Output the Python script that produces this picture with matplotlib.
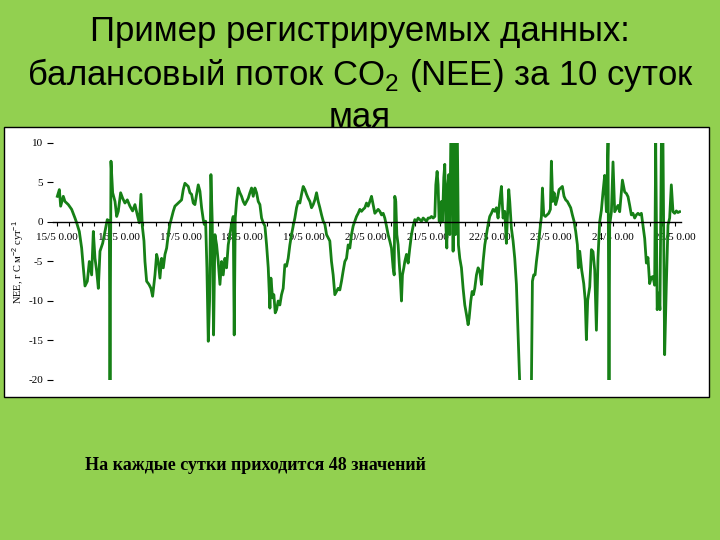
import matplotlib
matplotlib.use('Agg')
import matplotlib.pyplot as plt
from matplotlib.patches import Rectangle

# NEE, 15-25 May (days since 15/5 0:00)
day = [
    0.005, 0.038, 0.059, 0.102, 0.129, 0.183, 0.237, 0.291, 0.318, 0.361,
    0.399, 0.426, 0.453, 0.491, 0.523, 0.561, 0.588, 0.615, 0.642, 0.669,
    0.696, 0.739, 0.777, 0.814, 0.847, 0.858, 0.874, 0.901, 0.939, 0.966,
    0.992, 1.030, 1.063, 1.100, 1.138, 1.181, 1.224, 1.262, 1.300, 1.332,
    1.359, 1.381, 1.408, 1.424, 1.451, 1.489, 1.521, 1.548, 1.586,
    1.613, 1.640, 1.667, 1.694, 1.721, 1.748, 1.775, 1.801, 1.828, 1.855,
    1.882, 1.909, 1.937, 1.963, 1.990, 2.017, 2.044, 2.071, 2.098, 2.125,
    2.152, 2.179, 2.206, 2.233, 2.260, 2.287, 2.314, 2.341, 2.368, 2.384,
    2.406, 2.427, 2.449, 2.470, 2.492, 2.513, 2.535, 2.557, 2.584, 2.610,
    2.638, 2.665, 2.691, 2.718, 2.745, 2.772, 2.799, 2.826, 2.853, 2.869,
    2.886, 2.907, 2.934, 2.961, 2.988, 3.015, 3.042, 3.069, 3.096, 3.123,
    3.150, 3.177, 3.204, 3.231, 3.258, 3.285, 3.312,
    3.339, 3.366, 3.393, 3.420, 3.447, 3.463, 3.490, 3.511, 3.533, 3.555,
    3.581, 3.608, 3.635, 3.662, 3.689, 3.716, 3.743, 3.770, 3.797, 3.824,
    3.851, 3.878, 3.905, 3.932, 3.959, 3.986, 4.013, 4.040, 4.067, 4.094,
    4.121, 4.148, 4.175, 4.202, 4.229, 4.256, 4.283, 4.310, 4.337, 4.364,
    4.391, 4.417, 4.444, 4.471, 4.498, 4.525, 4.552, 4.579, 4.606, 4.633,
    4.660, 4.687, 4.714, 4.741, 4.768, 4.795, 4.822, 4.849, 4.876, 4.903,
    4.930, 4.957, 4.984, 5.011, 5.038,
    5.065, 5.092, 5.119, 5.146, 5.173, 5.200, 5.227, 5.254, 5.281, 5.307,
    5.334, 5.361, 5.388, 5.415, 5.442, 5.459, 5.469, 5.485, 5.502, 5.523,
    5.539, 5.561, 5.577, 5.593, 5.615, 5.631, 5.658, 5.685, 5.712, 5.739,
    5.766, 5.793, 5.820, 5.847, 5.874, 5.901, 5.928, 5.955, 5.982, 6.009,
    6.036, 6.063, 6.090, 6.117, 6.133, 6.154, 6.170, 6.187, 6.208, 6.224,
    6.241, 6.262, 6.278, 6.294, 6.311, 6.327, 6.343, 6.359, 6.375, 6.397,
    6.413, 6.429, 6.451, 6.467, 6.483, 6.499, 6.521, 6.548, 6.575, 6.602,
    6.629, 6.656, 6.672, 6.699, 6.721, 6.742, 6.764,
    6.791, 6.818, 6.845, 6.872, 6.899, 6.926, 6.953, 6.980, 7.006, 7.033,
    7.060, 7.087, 7.114, 7.141, 7.168, 7.195, 7.222, 7.249, 7.276, 7.292,
    7.314, 7.330, 7.357, 7.384, 7.411, 7.438, 7.465, 7.492, 7.573, 7.681,
    7.697, 7.718, 7.740, 7.762, 7.789, 7.816, 7.843, 7.859, 7.880, 7.907,
    7.934, 7.961, 7.988, 8.004, 8.026, 8.048, 8.074, 8.101, 8.128, 8.155,
    8.182, 8.209, 8.236, 8.263, 8.290, 8.317, 8.344, 8.371, 8.398, 8.425,
    8.441, 8.463,
    8.495, 8.528, 8.552, 8.571, 8.592, 8.625, 8.652, 8.678, 8.706, 8.733,
    8.759, 8.786, 8.814, 8.840, 8.867, 8.895, 8.921, 8.937, 8.948, 8.976,
    9.002, 9.029, 9.057, 9.083, 9.110, 9.154, 9.191, 9.219, 9.245, 9.272,
    9.299, 9.325, 9.353, 9.380, 9.406, 9.434, 9.461, 9.487, 9.515, 9.542,
    9.568, 9.595, 9.623, 9.649, 9.676, 9.693, 9.717, 9.741, 9.762, 9.785,
    9.811, 9.838, 9.865, 9.892, 9.919, 9.946, 9.973, 10.000, 10.027, 10.053,
    10.081,
]
nee = [
    3.25, 4.1, 2.0, 3.25, 2.6, 2.2, 1.6, 0.5, -0.1, -1.2,
    -3.3, -5.8, -8.1, -7.5, -5.0, -6.7, -1.2, -4.6, -6.2, -8.4,
    -3.7, -2.7, -1.2, 0.3, 0.1, -20.2, 7.7, 3.7, 2.6, 0.7,
    1.35, 3.7, 3.0, 2.4, 2.8, 2.0, 1.4, 2.2, 0.9, -0.1,
    3.5, -0.5, -2.4, -5.0, -7.5, -7.9, -8.4, -9.4, -6.7,
    -4.1, -5.0, -7.1, -4.6, -5.8, -4.1, -3.3, -1.6, -0.3, 0.5,
    1.35, 2.0, 2.2, 2.4, 2.6, 2.8, 4.1, 4.9, 4.7, 4.5,
    3.7, 3.5, 2.4, 2.2, 3.5, 4.7, 3.9, 1.8, 0.3, -0.3,
    0.1, -5.8, -15.1, -10.0, 6.0, 0.1, -14.3, -1.6, -2.9, -5.0,
    -7.9, -5.0, -6.7, -4.6, -5.8, -2.9, -1.6, -0.3, 0.7, -14.3,
    0.5, 2.6, 4.3, 3.7, 3.25, 2.6, 2.2, 2.6, 3.0, 3.7,
    4.3, 3.25, 4.3, 3.7, 2.6, 2.2, 0.5,
    -0.1, -0.5, -2.9, -5.8, -10.9, -7.1, -9.6, -9.2, -11.5, -11.1,
    -10.0, -10.5, -9.2, -8.4, -5.4, -5.6, -4.6, -2.9, -1.6, -0.5,
    0.5, 1.8, 2.6, 2.4, 3.5, 4.5, 4.1, 3.5, 3.0, 2.6,
    1.8, 2.2, 2.8, 3.7, 2.6, 1.8, 0.9, 0.1, -0.3, -1.6,
    -2.0, -2.4, -5.0, -6.7, -9.2, -8.8, -8.4, -8.6, -7.5, -6.2,
    -5.0, -4.6, -2.9, -3.3, -1.6, -0.5, 0.1, 0.7, 1.1, 1.6,
    1.35, 1.6, 1.8, 2.4, 2.0,
    2.6, 3.25, 2.2, 1.1, 1.35, 1.6, 1.35, 0.9, 1.1, 0.5,
    -0.5, -1.6, -2.4, -3.3, -5.8, -6.7, 3.25, 2.6, -1.6, -2.9,
    -5.0, -7.5, -10.0, -6.7, -5.8, -5.0, -4.1, -5.2, -3.3, -1.6,
    -0.5, 0.3, 0.1, 0.5, 0.3, 0.1, 0.5, 0.3, 0.1, 0.5,
    0.5, 0.7, 0.5, 0.7, 4.7, 6.4, 4.7, 0.1, -0.1, 2.6,
    0.1, 5.6, 7.3, 0.1, -3.3, 4.7, 6.0, -1.6, 10.0, 10.0,
    -3.7, 10.0, -1.6, 10.0, 10.0, -2.9, -4.6, -5.8, -8.4, -10.5,
    -11.7, -13.0, -12.2, -10.0, -8.8, -9.2, -8.4,
    -6.7, -5.8, -6.2, -7.9, -5.0, -2.9, -1.6, -0.3, 0.7, 1.1,
    1.6, 1.35, 1.8, 0.5, 2.6, 4.5, 0.5, 1.35, -2.7, 0.5,
    4.1, 2.6, -0.8, -2.4, -4.6, -7.9, -14.3, -20.5, -24.0, -20.5,
    -7.5, -6.7, -6.7, -5.0, -3.3, -1.2, 0.7, 4.3, 0.9, 0.7,
    0.9, 1.1, 1.6, 7.7, 2.6, 3.7, 2.2, 3.0, 4.1, 4.3,
    4.5, 3.25, 2.8, 2.6, 2.2, 1.8, 0.9, 0.1, -1.2, -2.9,
    -5.8, -3.7,
    -6.1, -7.8, -9.9, -14.9, -9.9, -8.2, -3.5, -3.75, -6.1, -13.7,
    -4.5, 0.0, 1.5, 3.8, 5.9, 1.3, 10.0, -20.3, -0.4, 1.3,
    7.6, 1.3, 1.7, 2.1, 1.3, 5.3, 3.8, 3.6, 3.2, 2.1,
    0.9, 1.1, 0.5, 0.9, 1.1, 0.9, 1.1, -0.4, -2.1, -5.2,
    -4.5, -7.8, -7.0, -6.9, -8.0, 10.0, -11.1, -9.0, -11.1, 10.0,
    10.0, -16.8, -8.0, -0.4, 0.5, 4.7, 1.3, 1.1, 1.4, 1.2,
    1.3,
]

day_ticks = list(range(11))
day_labels = ['%d/5 0.00' % d for d in range(15, 26)]
y_ticks = [-20, -15, -10, -5, 0, 5, 10]

title_lines = ['Пример регистрируемых данных:',
               'балансовый поток CO$_\\mathrm{2}$ (NEE) за 10 суток',
               'мая']
note = 'На каждые сутки приходится 48 значений'

plt.rcParams['axes.unicode_minus'] = False
plt.rcParams['mathtext.fontset'] = 'custom'
plt.rcParams['mathtext.rm'] = 'Liberation Sans'

fig = plt.figure(figsize=(7.2, 5.4), dpi=100)
fig.patch.set_facecolor('#92D050')

# slide title
for txt, yy in zip(title_lines, [0.942, 0.862, 0.783]):
    fig.text(0.5, yy, txt, ha='center', va='center', fontsize=25,
             family='Liberation Sans', color='black', zorder=0.5)

# white chart box
fig.patches.append(Rectangle((0.005, 0.265), 0.98, 0.5, transform=fig.transFigure,
                             facecolor='white', edgecolor='black', lw=1.0, zorder=1))

ax = fig.add_axes([0.0736, 0.2963, 0.872, 0.4389], zorder=2)
ax.patch.set_visible(False)
ax.plot(day, nee, color='#168016', lw=2.0)

ax.set_xlim(-0.065, 10.1)
ax.set_ylim(-20, 10)

for s in ['top', 'right', 'left']:
    ax.spines[s].set_visible(False)
ax.spines['bottom'].set_position(('data', 0))
ax.spines['bottom'].set_linewidth(1.0)

ax.set_xticks(day_ticks)
ax.set_xticklabels(day_labels, family='Liberation Serif', fontsize=8)
ax.set_xticks([i * 0.2 for i in range(51)], minor=True)
ax.tick_params(axis='x', which='both', direction='out', length=3, width=0.8, pad=5)

ax.set_yticks(y_ticks)
ax.set_yticklabels([str(v) for v in y_ticks], family='Liberation Serif', fontsize=8)
ax.tick_params(axis='y', direction='out', length=4, width=0.8, pad=3)

fig.text(0.025, 0.515, 'NEE, г С м$^{-2}$ сут$^{-1}$', rotation=90, ha='center', va='center',
         family='Liberation Serif', fontsize=7.5)

fig.text(0.118, 0.138, note, ha='left', va='center', fontsize=13,
         family='Liberation Serif', fontweight='bold')

fig.savefig('out.png', dpi=100, facecolor=fig.get_facecolor())
